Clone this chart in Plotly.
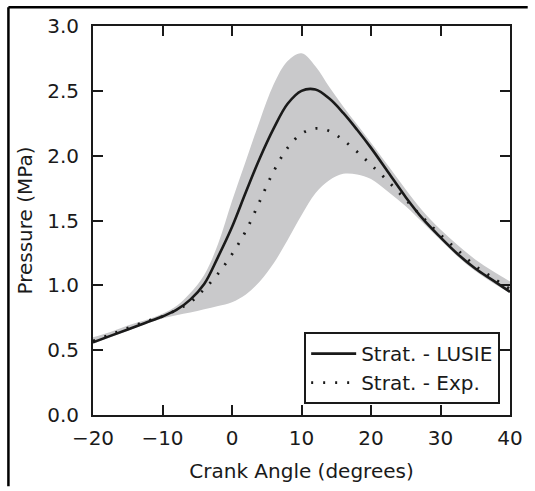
import plotly.graph_objects as go

# Crank angle grid (degrees)
crank_angle = [-20, -17.5, -15, -12.5, -10, -8, -6, -4, -2, 0, 2, 4, 6, 8, 10,
               12, 14, 16, 18, 20, 22.5, 25, 27.5, 30, 32.5, 35, 37.5, 40]

# Strat. - LUSIE (solid line), MPa
lusie = [0.56, 0.61, 0.66, 0.71, 0.76, 0.81, 0.89, 1.01, 1.22, 1.45, 1.72, 1.98, 2.21, 2.40, 2.50,
         2.51, 2.44, 2.33, 2.20, 2.06, 1.87, 1.68, 1.51, 1.37, 1.24, 1.13, 1.04, 0.95]

# Strat. - Exp. (dotted line), MPa
exp = [0.57, 0.62, 0.67, 0.72, 0.76, 0.81, 0.87, 0.97, 1.09, 1.24, 1.42, 1.65, 1.88, 2.06, 2.17,
       2.21, 2.19, 2.12, 2.03, 1.93, 1.80, 1.66, 1.52, 1.39, 1.27, 1.15, 1.06, 0.97]

# Grey envelope (upper / lower bounds), MPa
band_upper = [0.60, 0.64, 0.69, 0.73, 0.78, 0.84, 0.94, 1.08, 1.32, 1.65, 1.96, 2.27, 2.55, 2.73, 2.79,
              2.69, 2.53, 2.38, 2.24, 2.10, 1.92, 1.74, 1.57, 1.43, 1.31, 1.20, 1.11, 1.03]
band_lower = [0.55, 0.60, 0.65, 0.70, 0.745, 0.77, 0.79, 0.815, 0.84, 0.87, 0.93, 1.03, 1.17, 1.35, 1.54,
              1.71, 1.81, 1.86, 1.855, 1.82, 1.72, 1.61, 1.48, 1.35, 1.22, 1.11, 1.02, 0.94]

x_ticks = [-20, -10, 0, 10, 20, 30, 40]
y_ticks = [0.0, 0.5, 1.0, 1.5, 2.0, 2.5, 3.0]

FONT = "DejaVu Sans"
FS = 20
INK = "#1a1a1a"
GREY = "#c9c9cb"

fig = go.Figure()
fig.add_trace(go.Scatter(x=crank_angle, y=band_lower, mode="lines",
                         line=dict(width=0, color=GREY, shape="spline"),
                         showlegend=False, hoverinfo="skip"))
fig.add_trace(go.Scatter(x=crank_angle, y=band_upper, mode="lines",
                         line=dict(width=0, color=GREY, shape="spline"),
                         fill="tonexty", fillcolor=GREY,
                         showlegend=False, hoverinfo="skip"))
fig.add_trace(go.Scatter(x=crank_angle, y=lusie, mode="lines", name="Strat. - LUSIE",
                         line=dict(color=INK, width=2.6, shape="spline")))
fig.add_trace(go.Scatter(x=crank_angle, y=exp, mode="lines", name="Strat. - Exp.",
                         line=dict(color=INK, width=2.8, shape="spline", dash="2px,10px")))

W, H = 535, 491
L, R, T, B = 93, 517, 26, 419
pw, ph = R - L, B - T


def px_x(p):
    return (p - L) / pw


def px_y(p):
    return (B - p) / ph


axis_common = dict(showline=True, linecolor=INK, linewidth=2, mirror="ticks",
                   ticks="inside", ticklen=10, tickwidth=1.5, tickcolor=INK,
                   showgrid=False, zeroline=False,
                   tickfont=dict(family=FONT, size=FS, color=INK))

fig.update_layout(
    width=W, height=H,
    margin=dict(l=L, r=W - R, t=T, b=H - B, pad=0),
    paper_bgcolor="white", plot_bgcolor="white",
    font=dict(family=FONT, size=FS, color=INK),
    xaxis=dict(range=[-20, 40], tickvals=x_ticks, ticklabelstandoff=4,
               title=dict(text="Crank Angle (degrees)", standoff=15,
                          font=dict(family=FONT, size=FS, color=INK)),
               **axis_common),
    yaxis=dict(range=[0, 3], tickvals=y_ticks, tickformat=".1f", ticklabelstandoff=8,
               title=dict(text="Pressure (MPa)", standoff=9,
                          font=dict(family=FONT, size=FS, color=INK)),
               **axis_common),
    legend=dict(x=px_x(507), y=px_y(408), xanchor="right", yanchor="bottom",
                bgcolor="white", bordercolor=INK, borderwidth=2,
                font=dict(family=FONT, size=FS, color=INK),
                itemwidth=45, traceorder="normal"),
    shapes=[
        dict(type="line", xref="paper", yref="paper", x0=px_x(7), x1=px_x(535),
             y0=px_y(7), y1=px_y(7), line=dict(color="black", width=2.5)),
        dict(type="line", xref="paper", yref="paper", x0=px_x(7), x1=px_x(7),
             y0=px_y(7), y1=px_y(491), line=dict(color="black", width=2.5)),
    ],
)

fig.write_html("out.html")
